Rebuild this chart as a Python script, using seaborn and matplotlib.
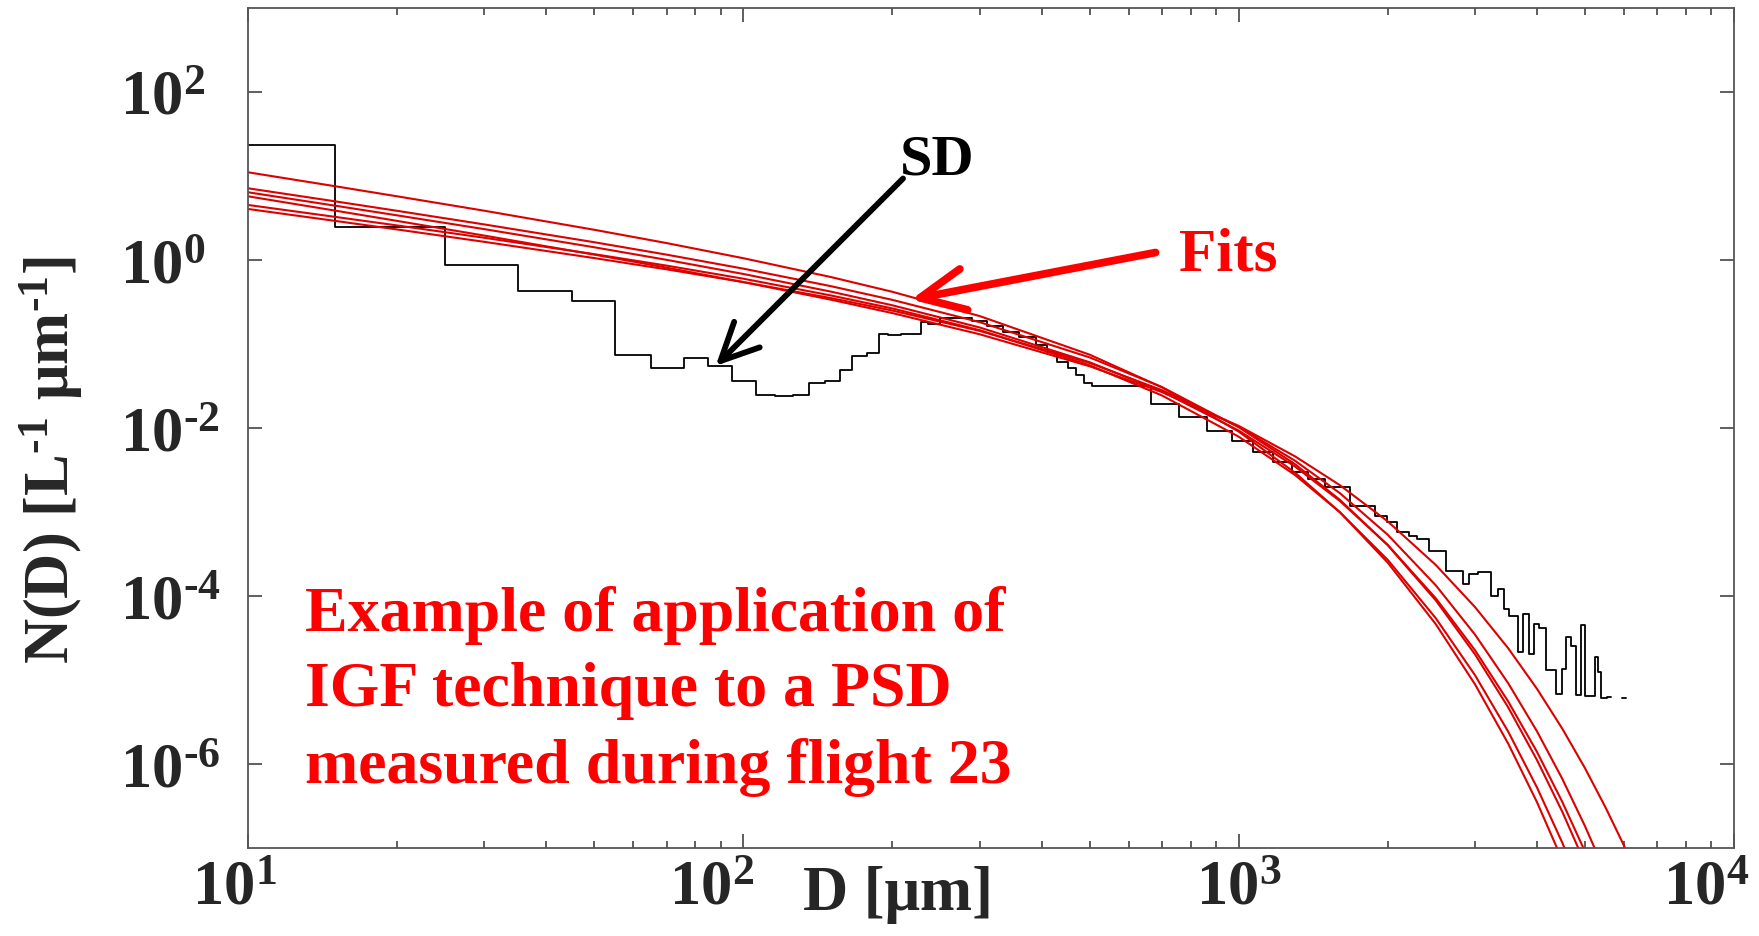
import numpy as np
import pandas as pd
import matplotlib
matplotlib.use("Agg")
import matplotlib.pyplot as plt
import matplotlib.ticker as mticker
from matplotlib.transforms import ScaledTranslation
import seaborn as sns

# measured size distribution: bin edges [um] and N(D) per bin
sd_edges = [10, 15, 25, 35, 45, 55, 65, 76, 85, 95,
            106, 116, 126, 136, 146, 157, 166, 178, 188, 196,
            208, 228, 236, 249, 269, 290, 310, 335, 360, 390,
            410, 429, 452, 469, 487, 506, 664, 759, 865, 970,
            1069, 1173, 1279, 1381, 1492, 1678, 1888, 1994, 2090, 2205,
            2294, 2423, 2618, 2831, 2920, 3036, 3229, 3333, 3438, 3520,
            3656, 3743, 3862, 3953, 4046, 4175, 4377, 4494, 4587, 4694,
            4804, 4902, 5010, 5237, 5317, 5400, 5529, 5640]
sd_values = [23.6, 2.45, 0.87, 0.43, 0.322, 0.0733, 0.0523, 0.0687, 0.0547, 0.0363,
             0.0249, 0.0238, 0.0249, 0.034, 0.0363, 0.0494, 0.0726, 0.0782, 0.1315, 0.128,
             0.132, 0.1845, 0.175, 0.2024, 0.205, 0.19, 0.165, 0.14, 0.12, 0.098,
             0.08, 0.0605, 0.052, 0.0425, 0.0344, 0.0319, 0.0193, 0.0136, 0.0093, 0.00706,
             0.00522, 0.0039, 0.00302, 0.00247, 0.00197, 0.00119, 0.000904, 0.000753, 0.000583, 0.000523,
             0.000478, 0.000347, 0.0002, 0.000139, 0.000183, 0.000191, 0.000101, 0.000121, 7.1e-5, 5.8e-5,
             2.13e-5, 6.1e-5, 2.04e-5, 4.65e-5, 4.12e-5, 1.33e-5, 6.8e-6, 1.35e-5, 3.22e-5, 2.56e-5,
             6.6e-6, 4.5e-5, 6.4e-6, 1.86e-5, 1.23e-5, 6.05e-6, 6.2e-6]
# lone last bin after the gap
sd_last_edges = [5930, 6066]
sd_last_value = [6.05e-6]

# the six IGF fits, read along a common D grid
fit_d = [10, 15, 20, 30, 50, 70, 100, 150, 200, 300, 500, 700, 1000, 1300,
         1600, 2000, 2500, 3000, 3500, 4000, 4500, 5000, 5500, 6000, 6500, 7000]
fit_1 = [11.07, 7.55, 5.73, 3.86, 2.29, 1.59, 1.05, 0.628, 0.418, 0.215, 0.0747, 0.0305, 9.06e-3, 2.93e-3,
         9.98e-4, 2.49e-4, 4.62e-5, 8.88e-6, 1.75e-6, 3.53e-7, 7.2e-8, 1.49e-8, 3.1e-9, 6.5e-10, 1.4e-10, 2.9e-11]
fit_2 = [7.14, 4.99, 3.85, 2.65, 1.628, 1.158, 0.789, 0.489, 0.335, 0.182, 0.0693, 0.0307, 0.01023, 3.70e-3,
         1.40e-3, 4.02e-4, 8.87e-5, 2.02e-5, 4.73e-6, 1.12e-6, 2.71e-7, 6.6e-8, 1.62e-8, 4.0e-9, 1.0e-9, 2.5e-10]
fit_3 = [6.40, 4.43, 3.40, 2.33, 1.418, 1.004, 0.682, 0.421, 0.2887, 0.1573, 0.0607, 0.02723, 9.33e-3, 3.47e-3,
         1.355e-3, 4.05e-4, 9.39e-5, 2.26e-5, 5.56e-6, 1.40e-6, 3.55e-7, 9.12e-8, 2.37e-8, 6.2e-9, 1.6e-9, 4.3e-10]
fit_4 = [5.73, 3.87, 2.92, 1.952, 1.159, 0.811, 0.546, 0.3375, 0.2332, 0.1306, 0.0544, 0.02675, 0.0106, 4.59e-3,
         2.09e-3, 7.72e-4, 2.34e-4, 7.38e-5, 2.39e-5, 7.88e-6, 2.64e-6, 8.96e-7, 3.06e-7, 1.06e-7, 3.67e-8, 1.28e-8]
fit_5 = [4.52, 3.26, 2.58, 1.839, 1.174, 0.857, 0.599, 0.379, 0.2648, 0.146, 0.0558, 0.0244, 7.89e-3, 2.75e-3,
         9.96e-4, 2.69e-4, 5.44e-5, 1.14e-5, 2.43e-6, 5.28e-7, 1.16e-7, 2.58e-8, 5.8e-9, 1.3e-9, 2.9e-10, 6.7e-11]
fit_6 = [4.05, 2.92, 2.31, 1.645, 1.054, 0.774, 0.5455, 0.3527, 0.250, 0.1433, 0.0594, 0.0282, 0.01033, 4.07e-3,
         1.68e-3, 5.35e-4, 1.34e-4, 3.47e-5, 9.16e-6, 2.46e-6, 6.68e-7, 1.83e-7, 5.08e-8, 1.41e-8, 3.95e-9, 1.1e-9]

xtick_vals = [10, 100, 1000, 10000]
xtick_labels = [r"$10^{1}$", r"$10^{2}$", r"$10^{3}$", r"$10^{4}$"]
ytick_vals = [1e-6, 1e-4, 1e-2, 1, 1e2]
ytick_labels = [r"$10^{\text{-}6}$", r"$10^{\text{-}4}$", r"$10^{\text{-}2}$", r"$10^{0}$", r"$10^{2}$"]
xlabel_shift_px = [-14, -32, 0, -28]

sns.set_theme(style="ticks")
plt.rcParams["font.family"] = ["Liberation Serif", "DejaVu Serif"]
plt.rcParams["font.weight"] = "bold"
plt.rcParams["axes.labelweight"] = "bold"
plt.rcParams["mathtext.fontset"] = "custom"
plt.rcParams["mathtext.rm"] = "Liberation Serif:bold"
plt.rcParams["mathtext.it"] = "Liberation Serif:italic:bold"
plt.rcParams["mathtext.bf"] = "Liberation Serif:bold"

fig = plt.figure(figsize=(17.59, 9.37), dpi=100)
ax = fig.add_axes([0.1410, 0.0939, 0.8448, 0.8965])

# histogram as steps
step_x = sd_edges[:-1] + [sd_edges[-1]]
step_y = sd_values + [sd_values[-1]]
sns.lineplot(x=step_x, y=step_y, ax=ax, color="black", lw=1.3,
             drawstyle="steps-post", estimator=None, sort=False)
sns.lineplot(x=sd_last_edges, y=sd_last_value * 2, ax=ax, color="black", lw=1.3,
             estimator=None, sort=False)

fits = pd.DataFrame({
    "D": fit_d * 6,
    "N": fit_1 + fit_2 + fit_3 + fit_4 + fit_5 + fit_6,
    "fit": np.repeat(np.arange(6), len(fit_d)),
})
sns.lineplot(data=fits, x="D", y="N", hue="fit", palette=["#dd0000"] * 6,
             lw=1.5, legend=False, estimator=None, sort=False, ax=ax)

ax.set_xscale("log")
ax.set_yscale("log")
ax.set_xlim(10, 1e4)
ax.set_ylim(1e-7, 1e3)

ax.set_xticks(xtick_vals, labels=xtick_labels)
ax.xaxis.set_minor_locator(mticker.LogLocator(base=10, subs=np.arange(2, 10), numticks=30))
ax.xaxis.set_minor_formatter(mticker.NullFormatter())
ax.set_yticks(ytick_vals, labels=ytick_labels)
ax.yaxis.set_minor_locator(mticker.NullLocator())

ax.tick_params(which="both", direction="in", top=True, right=True, color="#333333", width=1.1)
ax.tick_params(which="major", length=10)
ax.tick_params(which="minor", length=5)
ax.tick_params(axis="x", labelsize=45, pad=8)
ax.tick_params(axis="y", labelsize=45, pad=92)

for sp in ax.spines.values():
    sp.set_color("#555555")
    sp.set_linewidth(1.3)

for tl in ax.get_yticklabels():
    tl.set_ha("left")
for tl, dx in zip(ax.get_xticklabels(), xlabel_shift_px):
    tl.set_transform(tl.get_transform() + ScaledTranslation(dx / 100, 0, fig.dpi_scale_trans))

ax.set_xlabel("D [μm]", fontsize=45, fontweight="bold", va="baseline")
ax.xaxis.set_label_coords(0.4374, -0.0726)
ax.set_ylabel(r"N(D) [L$^{\text{-}1}$ μm$^{\text{-}1}$]", fontsize=45, fontweight="bold")
ax.yaxis.set_label_coords(-0.110, 0.463)

# annotations
ax.text(0.4635, 0.8198, "SD", transform=ax.transAxes, ha="center", va="center",
        fontsize=42, color="black")
ax.annotate("", xy=(0.3147, 0.5740), xytext=(0.4408, 0.7970),
            xycoords="axes fraction", textcoords="axes fraction",
            arrowprops=dict(arrowstyle="->,head_length=1.35,head_width=0.65", lw=4.2,
                            color="black", shrinkA=0, shrinkB=0, mutation_scale=20))
ax.text(0.6598, 0.7062, "Fits", transform=ax.transAxes, ha="center", va="center",
        fontsize=44, color="red")
ax.annotate("", xy=(0.4462, 0.6529), xytext=(0.6107, 0.7089),
            xycoords="axes fraction", textcoords="axes fraction",
            arrowprops=dict(arrowstyle="->,head_length=1.6,head_width=0.75", lw=5.6,
                            color="red", shrinkA=0, shrinkB=0, mutation_scale=20))
# anchor is the baseline of the last line
ax.text(0.0384, 0.0786, "Example of application of\nIGF technique to a PSD\nmeasured during flight 23",
        transform=ax.transAxes, ha="left", va="baseline", fontsize=46, color="red",
        linespacing=1.39)

fig.savefig("out.png", dpi=100, facecolor="white")
plt.close(fig)
